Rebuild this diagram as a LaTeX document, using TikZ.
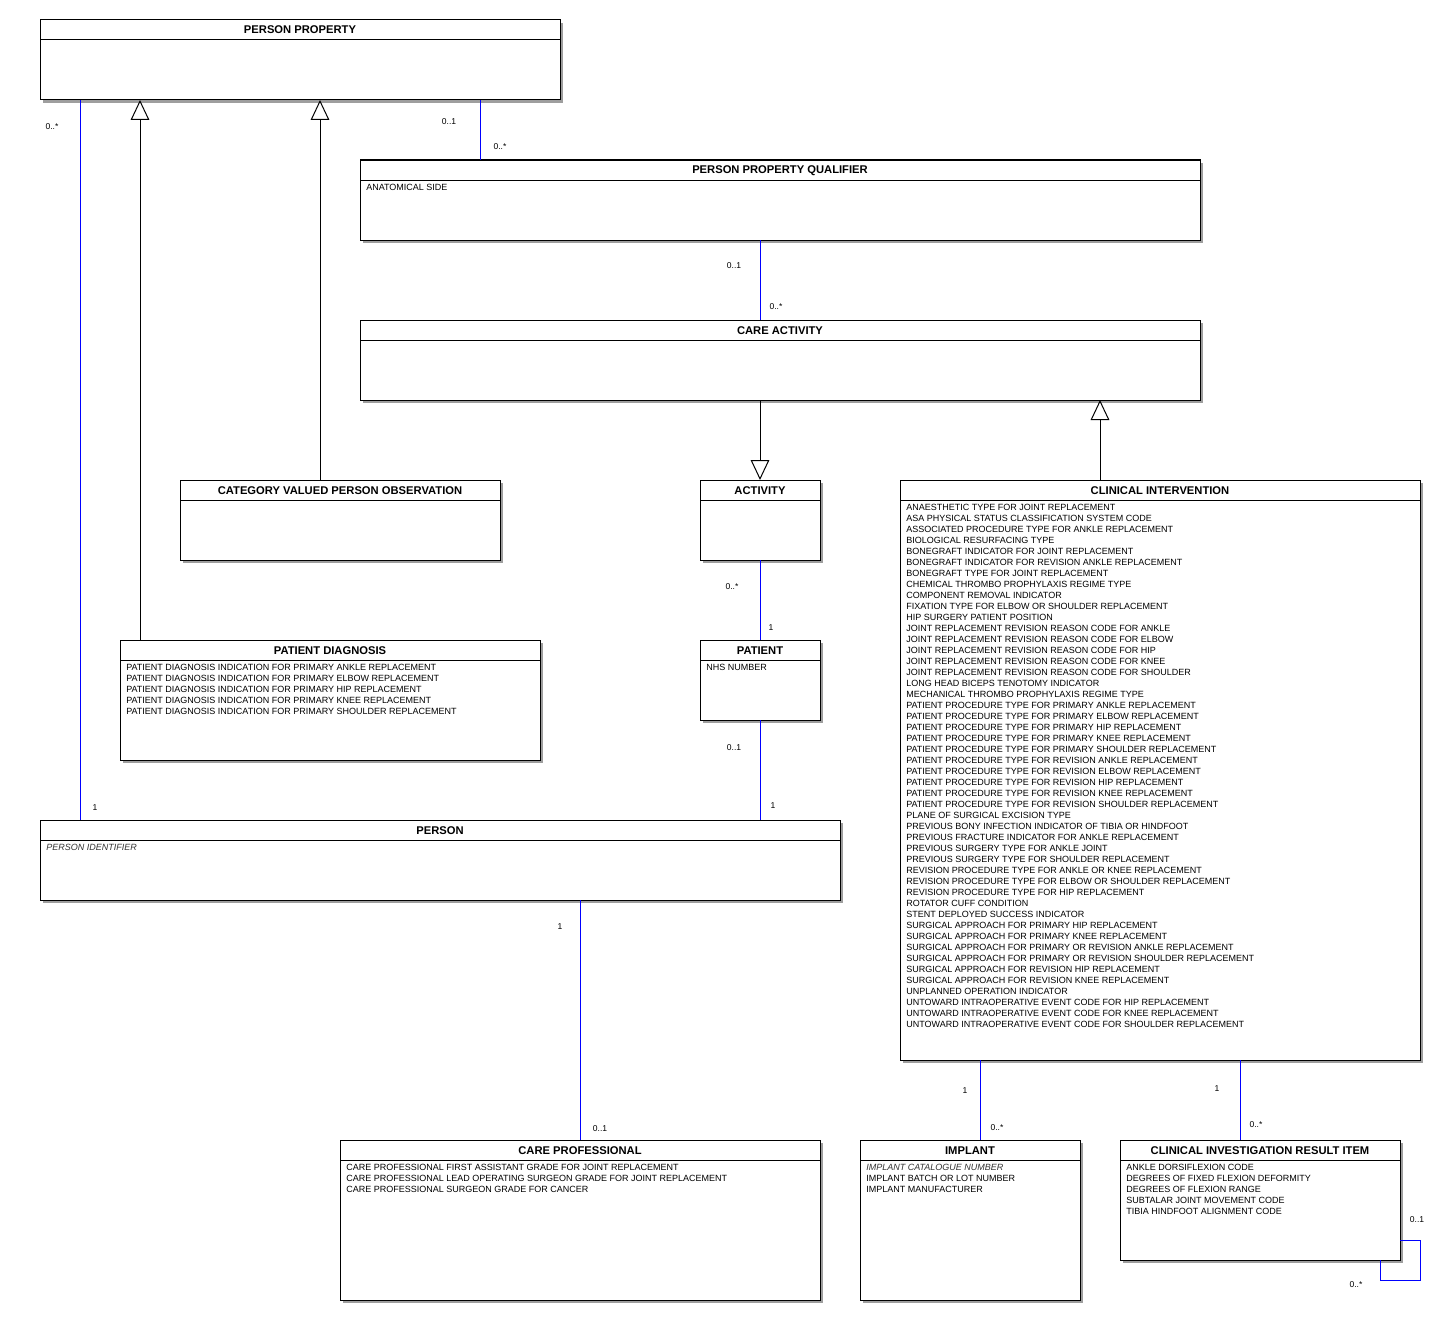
\documentclass[tikz,border=0pt]{standalone}
\usepackage{fontspec}
\setmainfont{Liberation Sans}
\usetikzlibrary{arrows.meta,calc}
\tikzset{
  classbox/.style={draw=black, fill=white, line width=0.75pt, inner sep=0pt, outer sep=0pt, anchor=north west},
  titletext/.style={font=\fontsize{8.4}{10}\selectfont\bfseries, inner sep=0pt, anchor=base},
  attrtext/.style={font=\fontsize{6.75}{8}\selectfont, inner sep=0pt, anchor=base west},
  mult/.style={font=\fontsize{6.4}{8}\selectfont, inner sep=0pt},
  assoc/.style={draw=blue, line width=0.75pt},
  gen/.style={draw=black, line width=0.75pt, -{Triangle[open, length=15pt, width=14pt]}},
  shadowbox/.style={fill=black!38},
}
\newcommand\umlclass[7]{%
  \fill[shadowbox] (#2+3,#3+3) rectangle (#4+3,#5+3);
  \node[classbox, minimum width={(#4-#2)*0.75pt}, minimum height={(#5-#3)*0.75pt}] (#1) at (#2,#3) {};
  \draw[line width=0.75pt] (#2,#3+20) -- (#4,#3+20);
  \node[titletext] (#1-title) at ({(#2+#4)/2},#3+14) {#6};
  \if\relax\detokenize{#7}\relax\else
    \foreach \t [count=\i] in {#7} {\node[attrtext] (#1-a\i) at (#2+6,{#3+30.5+11*(\i-1)}) {\t};}
  \fi
}
\newcommand\itattr[1]{\textcolor{black!80}{\textit{#1}}}
\begin{document}
\begin{tikzpicture}[x=0.75pt,y=-0.75pt]
\useasboundingbox[fill=white] (0,0) rectangle (1440,1320);
\foreach \c in {80,140,320,480,580,760,980,1100,1240} {\coordinate (c\c) at (\c,0);}

\umlclass{pp}{40}{20}{560}{100}{PERSON PROPERTY}{}
\umlclass{ppq}{360}{160}{1200}{240}{PERSON PROPERTY QUALIFIER}{ANATOMICAL SIDE}
\umlclass{ca}{360}{320}{1200}{400}{CARE ACTIVITY}{}
\umlclass{cvpo}{180}{480}{500}{560}{CATEGORY VALUED PERSON OBSERVATION}{}
\umlclass{act}{700}{480}{820}{560}{ACTIVITY}{}
\umlclass{ci}{900}{480}{1420}{1060}{CLINICAL INTERVENTION}{ANAESTHETIC TYPE FOR JOINT REPLACEMENT,
ASA PHYSICAL STATUS CLASSIFICATION SYSTEM CODE,
ASSOCIATED PROCEDURE TYPE FOR ANKLE REPLACEMENT,
BIOLOGICAL RESURFACING TYPE,
BONEGRAFT INDICATOR FOR JOINT REPLACEMENT,
BONEGRAFT INDICATOR FOR REVISION ANKLE REPLACEMENT,
BONEGRAFT TYPE FOR JOINT REPLACEMENT,
CHEMICAL THROMBO PROPHYLAXIS REGIME TYPE,
COMPONENT REMOVAL INDICATOR,
FIXATION TYPE FOR ELBOW OR SHOULDER REPLACEMENT,
HIP SURGERY PATIENT POSITION,
JOINT REPLACEMENT REVISION REASON CODE FOR ANKLE,
JOINT REPLACEMENT REVISION REASON CODE FOR ELBOW,
JOINT REPLACEMENT REVISION REASON CODE FOR HIP,
JOINT REPLACEMENT REVISION REASON CODE FOR KNEE,
JOINT REPLACEMENT REVISION REASON CODE FOR SHOULDER,
LONG HEAD BICEPS TENOTOMY INDICATOR,
MECHANICAL THROMBO PROPHYLAXIS REGIME TYPE,
PATIENT PROCEDURE TYPE FOR PRIMARY ANKLE REPLACEMENT,
PATIENT PROCEDURE TYPE FOR PRIMARY ELBOW REPLACEMENT,
PATIENT PROCEDURE TYPE FOR PRIMARY HIP REPLACEMENT,
PATIENT PROCEDURE TYPE FOR PRIMARY KNEE REPLACEMENT,
PATIENT PROCEDURE TYPE FOR PRIMARY SHOULDER REPLACEMENT,
PATIENT PROCEDURE TYPE FOR REVISION ANKLE REPLACEMENT,
PATIENT PROCEDURE TYPE FOR REVISION ELBOW REPLACEMENT,
PATIENT PROCEDURE TYPE FOR REVISION HIP REPLACEMENT,
PATIENT PROCEDURE TYPE FOR REVISION KNEE REPLACEMENT,
PATIENT PROCEDURE TYPE FOR REVISION SHOULDER REPLACEMENT,
PLANE OF SURGICAL EXCISION TYPE,
PREVIOUS BONY INFECTION INDICATOR OF TIBIA OR HINDFOOT,
PREVIOUS FRACTURE INDICATOR FOR ANKLE REPLACEMENT,
PREVIOUS SURGERY TYPE FOR ANKLE JOINT,
PREVIOUS SURGERY TYPE FOR SHOULDER REPLACEMENT,
REVISION PROCEDURE TYPE FOR ANKLE OR KNEE REPLACEMENT,
REVISION PROCEDURE TYPE FOR ELBOW OR SHOULDER REPLACEMENT,
REVISION PROCEDURE TYPE FOR HIP REPLACEMENT,
ROTATOR CUFF CONDITION,
STENT DEPLOYED SUCCESS INDICATOR,
SURGICAL APPROACH FOR PRIMARY HIP REPLACEMENT,
SURGICAL APPROACH FOR PRIMARY KNEE REPLACEMENT,
SURGICAL APPROACH FOR PRIMARY OR REVISION ANKLE REPLACEMENT,
SURGICAL APPROACH FOR PRIMARY OR REVISION SHOULDER REPLACEMENT,
SURGICAL APPROACH FOR REVISION HIP REPLACEMENT,
SURGICAL APPROACH FOR REVISION KNEE REPLACEMENT,
UNPLANNED OPERATION INDICATOR,
UNTOWARD INTRAOPERATIVE EVENT CODE FOR HIP REPLACEMENT,
UNTOWARD INTRAOPERATIVE EVENT CODE FOR KNEE REPLACEMENT,
UNTOWARD INTRAOPERATIVE EVENT CODE FOR SHOULDER REPLACEMENT}
\umlclass{pd}{120}{640}{540}{760}{PATIENT DIAGNOSIS}{PATIENT DIAGNOSIS INDICATION FOR PRIMARY ANKLE REPLACEMENT,
PATIENT DIAGNOSIS INDICATION FOR PRIMARY ELBOW REPLACEMENT,
PATIENT DIAGNOSIS INDICATION FOR PRIMARY HIP REPLACEMENT,
PATIENT DIAGNOSIS INDICATION FOR PRIMARY KNEE REPLACEMENT,
PATIENT DIAGNOSIS INDICATION FOR PRIMARY SHOULDER REPLACEMENT}
\umlclass{patient}{700}{640}{820}{720}{PATIENT}{NHS NUMBER}
\umlclass{person}{40}{820}{840}{900}{PERSON}{\itattr{PERSON IDENTIFIER}}
\umlclass{cp}{340}{1140}{820}{1300}{CARE PROFESSIONAL}{CARE PROFESSIONAL FIRST ASSISTANT GRADE FOR JOINT REPLACEMENT,
CARE PROFESSIONAL LEAD OPERATING SURGEON GRADE FOR JOINT REPLACEMENT,
CARE PROFESSIONAL SURGEON GRADE FOR CANCER}
\umlclass{impl}{860}{1140}{1080}{1300}{IMPLANT}{\itattr{IMPLANT CATALOGUE NUMBER},
IMPLANT BATCH OR LOT NUMBER,
IMPLANT MANUFACTURER}
\umlclass{ciri}{1120}{1140}{1400}{1260}{CLINICAL INVESTIGATION RESULT ITEM}{ANKLE DORSIFLEXION CODE,
DEGREES OF FIXED FLEXION DEFORMITY,
DEGREES OF FLEXION RANGE,
SUBTALAR JOINT MOVEMENT CODE,
TIBIA HINDFOOT ALIGNMENT CODE}

% generalizations
\draw[gen] (pd.north -| c140) -- (pp.south -| c140);
\draw[gen] (cvpo.north -| c320) -- (pp.south -| c320);
\draw[gen] (ca.south -| c760) -- (act.north -| c760);
\draw[gen] (ci.north -| c1100) -- (ca.south -| c1100);

% associations
\draw[assoc] (pp.south -| c80) -- (person.north -| c80);
\draw[assoc] (pp.south -| c480) -- (ppq.north -| c480);
\draw[assoc] (ppq.south -| c760) -- (ca.north -| c760);
\draw[assoc] (act.south -| c760) -- (patient.north -| c760);
\draw[assoc] (patient.south -| c760) -- (person.north -| c760);
\draw[assoc] (person.south -| c580) -- (cp.north -| c580);
\draw[assoc] (ci.south -| c980) -- (impl.north -| c980);
\draw[assoc] (ci.south -| c1240) -- (ciri.north -| c1240);
\draw[assoc] ($(ciri.south east)+(0,-20)$) -- ++(20,0) -- ++(0,40) -- ++(-40,0) -- ($(ciri.south east)+(-20,0)$);

% multiplicities
\node[mult] (m1) at (52,127) {0..*};
\node[mult] (m2) at (95,808) {1};
\node[mult] (m3) at (449,122) {0..1};
\node[mult] (m4) at (500,147) {0..*};
\node[mult] (m5) at (734,266) {0..1};
\node[mult] (m6) at (776,307) {0..*};
\node[mult] (m7) at (732,587) {0..*};
\node[mult] (m8) at (771,628) {1};
\node[mult] (m9) at (734,748) {0..1};
\node[mult] (m10) at (773,806) {1};
\node[mult] (m11) at (560,927) {1};
\node[mult] (m12) at (600,1129) {0..1};
\node[mult] (m13) at (965,1091) {1};
\node[mult] (m14) at (997,1128) {0..*};
\node[mult] (m15) at (1217,1089) {1};
\node[mult] (m16) at (1256,1125) {0..*};
\node[mult] (m17) at (1417,1220) {0..1};
\node[mult] (m18) at (1356,1285) {0..*};
\end{tikzpicture}
\end{document}
